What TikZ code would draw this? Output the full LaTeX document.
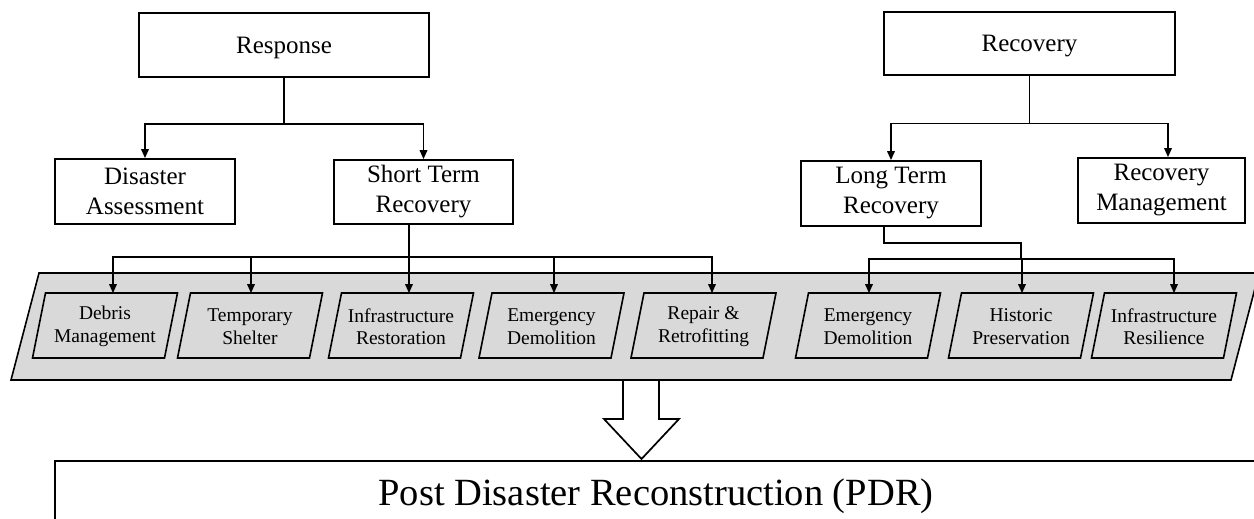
\documentclass[tikz,border=0pt]{standalone}
\usepackage{fontspec}
\setmainfont{Liberation Serif}
\usetikzlibrary{arrows.meta,calc}
\definecolor{bandgray}{RGB}{217,217,217}
\begin{document}
\begin{tikzpicture}[x=1pt,y=-1pt,
  line width=1.7pt,
  box/.style={draw, line width=1.7pt, inner sep=0pt, align=center, font=\fontsize{25}{30}\selectfont},
  ptext/.style={inner sep=0pt, minimum width=132pt, minimum height=65pt, align=center, font=\fontsize{19.5}{22.5}\selectfont},
  pbox/.style={draw, fill=bandgray, line width=1.6pt},
  arr/.style={-{Triangle[length=9pt,width=7.5pt]}, line width=1.7pt},
]
\useasboundingbox (0,0) rectangle (1254,519);

% top level boxes
\node[box, text depth=0pt, minimum width=290pt, minimum height=64pt] (resp) at (284,45) {Response};
\node[box, text depth=0pt, minimum width=291pt, minimum height=63pt] (reco) at (1029.5,43.5) {Recovery};

% second level
\node[box, minimum width=180pt, minimum height=65pt] (da) at (145,191.5) {Disaster\\Assessment};
\node[box, minimum width=179pt, minimum height=64pt] (str) at (423.5,192) {Short Term\\Recovery};
\node[box, minimum width=180pt, minimum height=65pt] (ltr) at (891,193.5) {Long Term\\Recovery};
\node[box, minimum width=167pt, minimum height=65pt] (rm) at (1161.5,190.5) {Recovery\\Management};

% gray band
\draw[pbox] (11,380) -- (1231,380) -- (1259,273) -- (39,273) -- cycle;

% parallelogram items
\foreach \cx/\nm/\txt in {
  105/d1/{Debris\\Management},
  250/t1/{Temporary\\Shelter},
  401/i1/{Infrastructure\\Restoration},
  551.5/e1/{Emergency\\Demolition},
  703.5/r1/{Repair \&\\Retrofitting},
  868/e2/{Emergency\\Demolition},
  1021/hp/{Historic\\Preservation},
  1164/ir/{Infrastructure\\Resilience}} {
  \draw[pbox] (\cx-72.5,358) -- (\cx+59.5,358) -- (\cx+72.5,293) -- (\cx-59.5,293) -- cycle;
  \node[ptext] (\nm) at (\cx,326.5) {\txt};
}

% connectors: Response
\draw (resp.south) -- ++(0,46) coordinate (rj);
\draw[arr] (rj) -| (da.north);
\draw[arr] (rj) -| (str.north);

% connectors: Recovery
\draw (reco.south) -- ++(0,47.5) coordinate (cj);
\draw[arr] (cj) -| (ltr.north);
\draw[arr] (cj) -| ($(rm.north)+(6.5,0)$);

% connectors: Short Term Recovery
\draw ($(str.south)+(-14.5,0)$) -- ++(0,32) coordinate (sj);
\draw[arr] (sj) -| ($(d1.north)+(8,0)$);
\draw[arr] (sj) -| ($(t1.north)+(1,0)$);
\draw[arr] (sj) -| ($(i1.north)+(8,0)$);
\draw[arr] (sj) -| ($(e1.north)+(2.5,0)$);
\draw[arr] (sj) -| ($(r1.north)+(8.5,0)$);

% connectors: Long Term Recovery
\draw ($(ltr.south)+(-7,0)$) -- ++(0,16) -| ++(137,16) coordinate (lj);
\draw[arr] (lj) -| ($(e2.north)+(1,0)$);
\draw[arr] (lj) -| ($(hp.north)+(1,0)$);
\draw[arr] (lj) -| ($(ir.north)+(10,0)$);

% big hollow arrow
\draw[line width=1.7pt, line join=miter] (623,380) -- (623,419) -- (604,419) -- (641.5,459) -- (679,419) -- (659,419) -- (659,380);

% PDR box
\node[draw, line width=1.7pt, inner sep=0pt, minimum width=1230pt, minimum height=90pt, anchor=north west] (pdrbox) at (54,460) {};
\node[inner sep=0pt, anchor=base, font=\fontsize{38.5}{46}\selectfont] (pdr) at (656,505) {Post Disaster Reconstruction (PDR)};
\end{tikzpicture}
\end{document}
